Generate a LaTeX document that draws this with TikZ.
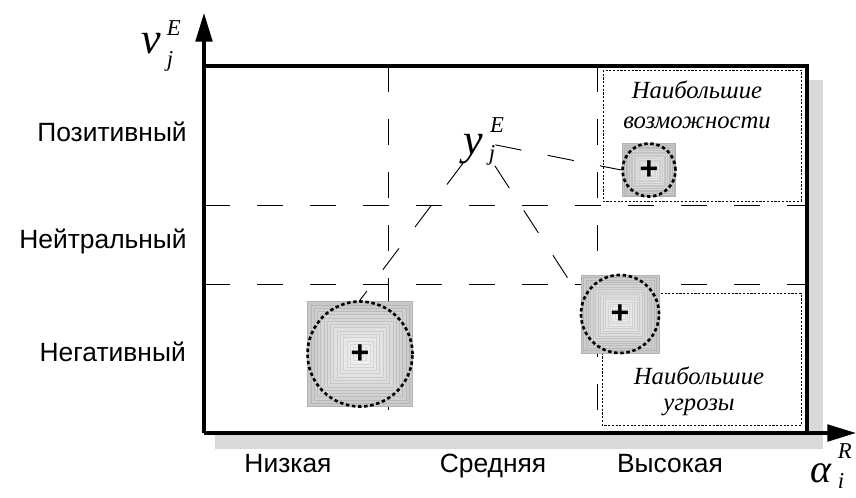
\documentclass[tikz,border=0pt]{standalone}
\usepackage{fontspec}
\setmainfont{Liberation Sans}
\newfontfamily\tnr{Liberation Serif}
\newcommand{\smallsym}{\fontsize{17}{17}\selectfont}
\usetikzlibrary{arrows.meta}

\begin{document}
\begin{tikzpicture}[x=0.75pt, y=-0.75pt,
    frame/.style={line width=2.4pt},
    axisline/.style={line width=2.4pt, -{Triangle[length=21.5pt, width=12.5pt]}},
    gridline/.style={line width=0.7pt, dash pattern=on 19.5pt off 20.25pt},
    link/.style={line width=0.7pt, dash pattern=on 20pt off 20pt},
    zone/.style={line width=0.6pt, dash pattern=on 1.6pt off 1.2pt},
    level/.style={font=\fontsize{19.8}{20}\selectfont, inner sep=0pt},
    note/.style={font=\tnr\itshape\fontsize{18.5}{22.5}\selectfont, align=center, inner sep=0pt},
    sym/.style={font=\tnr\itshape\fontsize{33}{33}\selectfont, inner sep=0pt, anchor=base west},
    spot/.style={circle, draw, line width=2pt, dash pattern=on 2.6pt off 2pt, inner sep=0pt},
    cross/.style={font=\bfseries\fontsize{24}{24}\selectfont, inner sep=0pt}]
  \useasboundingbox (0,0) rectangle (856,497);

  % shadow
  \fill[black!15] (807,80) rectangle (823,449);
  \fill[black!15] (215,433) rectangle (823,449);

  % axes and frame
  \coordinate (O) at (204,433);
  \coordinate (ytip) at (204,13);
  \coordinate (xtip) at (856,433);
  \coordinate (tl) at (204,66);
  \coordinate (br) at (807,433);
  \draw[frame] (tl) -| (br);
  \draw[axisline] (O) -- (ytip);
  \draw[axisline] (O) -- (xtip);

  % grid
  \foreach \y in {205,284}
    \draw[gridline] (204,\y) -- (807,\y);
  \foreach \x in {388,597}
    \draw[gridline] (\x,66) -- (\x,433);

  % zones
  \draw[zone] (603,70) rectangle (801,201);
  \draw[zone] (602,293) rectangle (801,425);
  \node[note, anchor=north] (chancetext) at (697,81) {Наибольшие\\возможности};
  \node[note, font=\tnr\itshape\fontsize{18.5}{19}\selectfont, anchor=north] (threattext) at (699,367) {Наибольшие\\угрозы};

  % levels
  \node[level, anchor=base east] (pos) at (187,141) {Позитивный};
  \node[level, anchor=base east] (neu) at (187,248) {Нейтральный};
  \node[level, anchor=base east] (neg) at (186,361) {Негативный};
  \node[level, anchor=base] (low) at (288,472) {Низкая};
  \node[level, anchor=base] (medium) at (493,472) {Средняя};
  \node[level, anchor=base] (high) at (670,472) {Высокая};

  % symbols
  \node[sym] (vE) at (141,53) {v\kern4.5pt\rlap{\raisebox{13.5pt}{\smallsym E}}\raisebox{-10pt}{\smallsym j}};
  \node[sym] (yE) at (463,154) {y\kern4.5pt\rlap{\kern1pt\raisebox{16pt}{\smallsym E}}\raisebox{-5pt}{\smallsym j}};
  \node[sym, font=\tnr\itshape\fontsize{30}{30}\selectfont] (aR) at (810,482) {α\kern5pt\rlap{\raisebox{17.5pt}{\smallsym R}}\raisebox{-4.5pt}{\smallsym i}};

  % spots
  \foreach \name/\cx/\cy/\h in {weak/360/354/52.5, threat/620/314/39, chance/649/170/26.5} {
    \foreach \k in {0,...,15} {
      \pgfmathsetmacro\s{\h*(1-\k/16)}
      \pgfmathsetmacro\g{21-1.1*\k}
      \pgfmathsetmacro\d{\g+9}
      \filldraw[fill=black!\g, draw=black!\d, line width=0.4pt] (\cx-\s,\cy-\s) rectangle (\cx+\s,\cy+\s);
    }
    \node[spot, minimum size={2*\h*0.75pt}] (\name) at (\cx,\cy) {};
    \node[cross] (\name-c) at (\cx,\cy) {+};
  }

  % links
  \draw[link] (yE) -- (chance.west);
  \draw[link] (yE) -- (weak.north);
  \draw[link] (yE) -- (threat.160);
\end{tikzpicture}
\end{document}
